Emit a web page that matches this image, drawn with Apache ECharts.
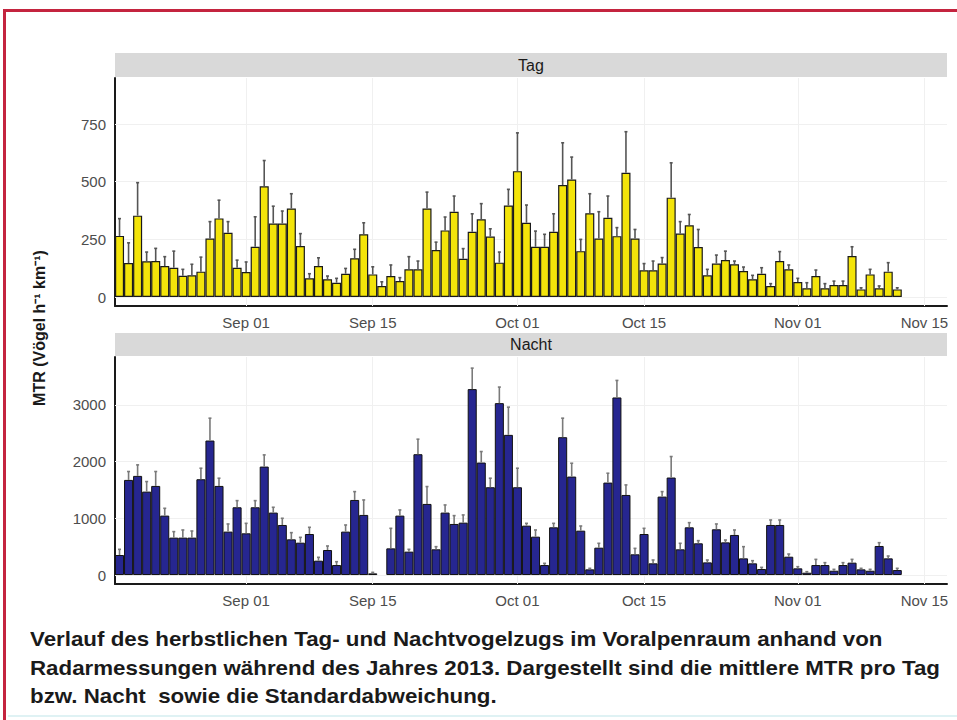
<!DOCTYPE html>
<html>
<head>
<meta charset="utf-8">
<script src="https://cdn.jsdelivr.net/npm/echarts@6/dist/echarts.min.js"></script>
<style>
  html, body { margin: 0; padding: 0; background: #fff; }
  #wrap { position: relative; width: 957px; height: 720px; overflow: hidden; }
  #main { position: absolute; left: 0; top: 0; width: 957px; height: 720px; }
  #frame { position: absolute; left: 3px; top: 9px; width: 990px; height: 800px;
           border-top: 3px solid #c4243f; border-left: 3px solid #c4243f; pointer-events: none; }
  #caption { position: absolute; left: 30px; top: 625px; color: #1a1a1a; font-weight: bold;
             font-family: "Liberation Sans", Arial, sans-serif;
             font-size: 21px; line-height: 28.5px; white-space: nowrap; transform-origin: 0 0; }
  #caption span { display: inline-block; }
  #bottomline { position: absolute; left: 8px; top: 715px; width: 960px; height: 2px; background: #dff2f4; }
</style>
</head>
<body>
<div id="wrap">
  <div id="main"></div>
  <div id="frame"></div>
  <div id="caption">
    <span>Verlauf des herbstlichen Tag- und Nachtvogelzugs im Voralpenraum anhand von</span><br>
    <span id="longline">Radarmessungen während des Jahres 2013. Dargestellt sind die mittlere MTR pro Tag</span><br>
    <span>bzw. Nacht&nbsp; sowie die Standardabweichung.</span>
  </div>
  <div id="bottomline"></div>
</div>
<script>
// Tageswerte ab 18. Aug 2013 (87 Tage), MTR Mittelwert und Standardabweichung
const tagMean = [265, 147, 353, 155, 156, 134, 127, 92, 94, 110,
  254, 341, 279, 127, 108, 218, 480, 319, 319, 384,
  221, 81, 134, 77, 62, 101, 168, 272, 98, 48,
  91, 69, 120, 120, 384, 204, 289, 370, 166, 283,
  337, 262, 149, 397, 546, 322, 218, 218, 283, 486,
  510, 199, 363, 254, 344, 264, 539, 254, 116, 116,
  145, 431, 275, 311, 217, 94, 145, 160, 142, 113,
  77, 101, 48, 156, 120, 65, 38, 91, 38, 52,
  52, 178, 33, 98, 38, 110, 33];
const tagSd = [75, 88, 143, 40, 55, 41, 72, 28, 48, 63,
  73, 79, 48, 33, 44, 130, 112, 75, 54, 64,
  54, 20, 36, 14, 19, 23, 39, 50, 33, 18,
  48, 15, 55, 36, 71, 34, 58, 68, 44, 78,
  68, 34, 46, 70, 166, 77, 68, 54, 78, 183,
  97, 51, 85, 116, 94, 37, 178, 39, 29, 40,
  26, 151, 52, 47, 76, 26, 37, 39, 14, 17,
  17, 26, 10, 41, 19, 16, 24, 26, 20, 17,
  17, 40, 7, 22, 10, 39, 7];
const nachtMean = [353, 1676, 1747, 1470, 1570, 1047, 659, 659, 659, 1688,
  2370, 1570, 765, 1194, 735, 1194, 1911, 1100, 882, 629,
  570, 723, 253, 441, 176, 765, 1323, 1059, 29, null,
  470, 1047, 412, 2129, 1253, 453, 1100, 900, 923, 3276,
  1982, 1547, 3029, 2470, 1547, 870, 676, 176, 841, 2429,
  1735, 782, 100, 482, 1629, 3129, 1411, 365, 723, 206,
  1382, 1718, 453, 841, 559, 223, 806, 576, 706, 294,
  206, 106, 882, 882, 323, 118, 41, 176, 176, 76,
  176, 218, 100, 76, 512, 294, 88];
const nachtSd = [100, 148, 194, 177, 254, 129, 106, 135, 117, 194,
  394, 136, 135, 117, 176, 117, 206, 94, 118, 118,
  94, 118, 59, 71, 59, 117, 147, 264, 18, null,
  353, 100, 41, 265, 306, 47, 135, 147, 136, 370,
  194, 159, 283, 488, 335, 41, 118, 30, 70, 335,
  235, 82, 18, 77, 165, 300, 177, 105, 100, 59,
  88, 370, 106, 82, 47, 42, 94, 41, 88, 206,
  47, 29, 88, 88, 47, 29, 18, 100, 42, 24,
  42, 58, 18, 24, 58, 41, 30];
const tickLabels = ['Sep 01', 'Sep 15', 'Oct 01', 'Oct 15', 'Nov 01', 'Nov 15'];
const tagTicks = [0, 250, 500, 750];
const nachtTicks = [0, 1000, 2000, 3000];

// x-Achse: Tage vom 18. Aug bis 17. Nov
const monthNames = ['Jan', 'Feb', 'Mar', 'Apr', 'May', 'Jun', 'Jul', 'Aug', 'Sep', 'Oct', 'Nov', 'Dec'];
const days = [];
for (let i = 0; i < 92; i++) {
  const d = new Date(2013, 7, 18 + i);
  days.push(monthNames[d.getMonth()] + ' ' + String(d.getDate()).padStart(2, '0'));
}

const errData = (mean, sd) => mean.map((m, i) => [i, m, sd[i]]).filter(d => d[1] != null);

function errorBars(color) {
  return function (params, api) {
    const x = api.value(0), m = api.value(1), s = api.value(2);
    const p0 = api.coord([x, m]);
    const p1 = api.coord([x, m + s]);
    const style = { stroke: color, lineWidth: 1.6 };
    return {
      type: 'group',
      children: [
        { type: 'line', shape: { x1: p0[0], y1: p0[1], x2: p1[0], y2: p1[1] }, style: style },
        { type: 'line', shape: { x1: p1[0] - 1.5, y1: p1[1], x2: p1[0] + 1.5, y2: p1[1] }, style: style }
      ]
    };
  };
}

const labelFont = { color: '#4d4d4d', fontSize: 15, fontFamily: 'Liberation Sans' };
const gridLines = ticks => ({
  silent: true, symbol: 'none', z: 1, animation: false,
  label: { show: false },
  lineStyle: { color: '#f0f0f0', type: 'solid', width: 1 },
  data: ticks.map(v => ({ yAxis: v })).concat(tickLabels.map(v => ({ xAxis: v })))
});

function xAxisFor(idx) {
  return {
    gridIndex: idx, type: 'category', data: days, boundaryGap: true,
    axisLine: { onZero: false, lineStyle: { color: '#1a1a1a', width: 2 } },
    axisTick: { show: false },
    splitLine: { show: false },
    axisLabel: Object.assign({ interval: (i, v) => tickLabels.includes(v), margin: 9 }, labelFont)
  };
}
function yAxisFor(idx, min, max, ticks) {
  return {
    gridIndex: idx, type: 'value', min: min, max: max,
    axisLine: { show: true, lineStyle: { color: '#1a1a1a', width: 2 } },
    axisTick: { show: false },
    splitLine: { show: false },
    axisLabel: Object.assign({ customValues: ticks, margin: 9, formatter: v => String(v) }, labelFont)
  };
}

const chart = echarts.init(document.getElementById('main'), null, { renderer: 'svg' });
chart.setOption({
  animation: false,
  backgroundColor: '#fff',
  grid: [
    { left: 115, right: 10, top: 78, height: 228 },
    { left: 115, right: 10, top: 357, height: 227 }
  ],
  xAxis: [xAxisFor(0), xAxisFor(1)],
  yAxis: [yAxisFor(0, -39, 950, tagTicks), yAxisFor(1, -158, 3842, nachtTicks)],
  graphic: [
    { type: 'rect', shape: { x: 115, y: 53, width: 832, height: 24 }, style: { fill: '#d9d9d9' } },
    { type: 'text', x: 531, y: 65, style: { text: 'Tag', fill: '#1a1a1a', font: '16px Liberation Sans', align: 'center', verticalAlign: 'middle' } },
    { type: 'rect', shape: { x: 115, y: 333, width: 832, height: 23 }, style: { fill: '#d9d9d9' } },
    { type: 'text', x: 531, y: 344.5, style: { text: 'Nacht', fill: '#1a1a1a', font: '16px Liberation Sans', align: 'center', verticalAlign: 'middle' } },
    { type: 'text', x: 39, y: 328, rotation: Math.PI / 2,
      style: { text: 'MTR (Vögel h⁻¹ km⁻¹)', fill: '#1a1a1a', font: 'bold 16px Liberation Sans', align: 'center', verticalAlign: 'middle' } }
  ],
  series: [
    {
      name: 'Tag', type: 'bar', xAxisIndex: 0, yAxisIndex: 0, data: tagMean,
      barCategoryGap: '0%', z: 2,
      itemStyle: { color: '#f3e40a', borderColor: '#1a1a1a', borderWidth: 1.2 },
      markLine: gridLines(tagTicks)
    },
    {
      name: 'Tag SD', type: 'custom', xAxisIndex: 0, yAxisIndex: 0, z: 3,
      data: errData(tagMean, tagSd), renderItem: errorBars('#555555')
    },
    {
      name: 'Nacht', type: 'bar', xAxisIndex: 1, yAxisIndex: 1, data: nachtMean,
      barCategoryGap: '0%', z: 2,
      itemStyle: { color: '#262690', borderColor: '#111111', borderWidth: 1 },
      markLine: gridLines(nachtTicks)
    },
    {
      name: 'Nacht SD', type: 'custom', xAxisIndex: 1, yAxisIndex: 1, z: 3,
      data: errData(nachtMean, nachtSd), renderItem: errorBars('#7a7a7a')
    }
  ]
});

// Bildunterschrift auf die Breite der Vorlage bringen (schmale Schrift wie im Original)
const line = document.getElementById('longline');
const cap = document.getElementById('caption');
const w = line.getBoundingClientRect().width;
cap.style.transform = 'scaleX(' + (910 / w).toFixed(4) + ')';
</script>
</body>
</html>
